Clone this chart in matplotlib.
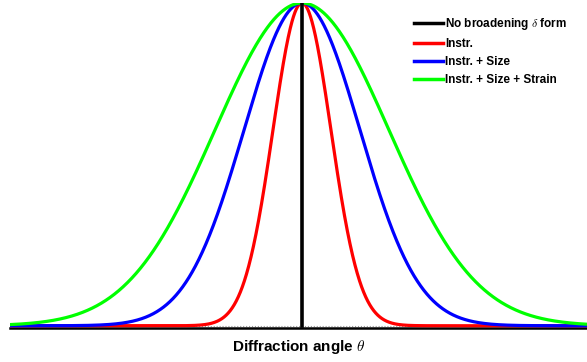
import numpy as np
import matplotlib.pyplot as plt

plt.rcParams['font.family'] = ['Liberation Sans', 'DejaVu Sans']
plt.rcParams['mathtext.fontset'] = 'cm'

# profile widths (sigma, in units of the instrumental width)
labels = ['Instr.', 'Instr. + Size', 'Instr. + Size + Strain']
sigmas = [1.0, 2.0, 3.0]
colors = ['#ff0000', '#0000ff', '#00ff00']
peak_pos = 0.0
peak_height = 1.0


def main():
    fig = plt.figure(figsize=(5.87, 3.62), dpi=100)
    ax = fig.add_axes([10 / 587, 34 / 362, 577 / 587, 325 / 362])

    x = np.linspace(-10.1, 9.9, 2000)
    ax.axhline(0, color='#999999', lw=0.8, ls=':', zorder=1)
    ax.plot([peak_pos, peak_pos], [0, peak_height], color='k', lw=2.6,
            label=r'No broadening $\delta$ form', zorder=5)
    for lab, s, c in zip(labels, sigmas, colors):
        y = peak_height * np.exp(-0.5 * ((x - peak_pos) / s) ** 2)
        ax.plot(x, y, color=c, lw=2.3, label=lab, zorder=3)

    ax.set_xlim(-10.07, 9.83)
    ax.set_ylim(-0.007, 1.0)
    for side in ['left', 'right', 'top']:
        ax.spines[side].set_visible(False)
    ax.spines['bottom'].set_linewidth(1.8)
    ax.set_xticks([])
    ax.set_yticks([])
    ax.set_xlabel(r'Diffraction angle $\theta$', fontsize=11, fontweight='bold', labelpad=7)

    leg = ax.legend(loc='upper right', frameon=False, handlelength=2.5, handletextpad=0.15,
                    labelspacing=0.5, prop={'weight': 'bold', 'size': 8.5},
                    bbox_to_anchor=(0.984, 0.992))
    for h in leg.get_lines():
        h.set_linewidth(2.5)

    fig.savefig('out.png', dpi=100)


if __name__ == '__main__':
    main()
